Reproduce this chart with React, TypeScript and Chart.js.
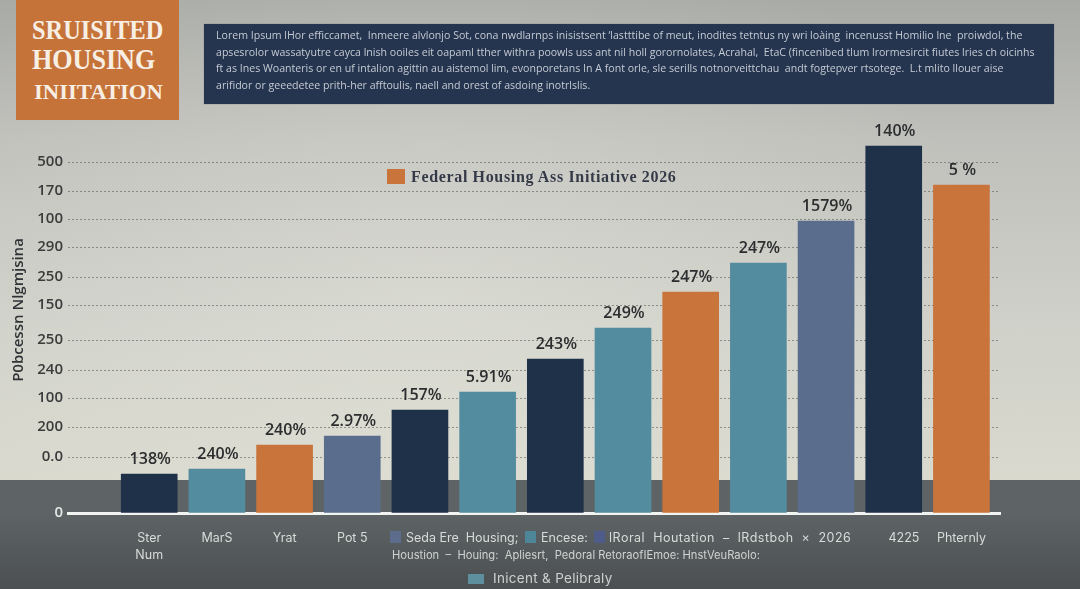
import React, { useEffect, useRef } from 'react';
import { Chart, registerables } from 'chart.js';

Chart.register(...registerables);

// bar heights are read off the picture, the printed labels don't agree with any scale
const slots = [1, 2, 3, 4, 5, 6, 7, 8, 9, 10, 11, 12, 13];
const values = [39, 44, 68, 77, 103, 121, 154, 185, 221, 250, 292, 367, 328];
const valueLabels = ['138%', '240%', '240%', '2.97%', '157%', '5.91%', '243%', '249%', '247%', '247%', '1579%', '140%', '5 %'];

const navy = '#1f3049';
const teal = '#548c9f';
const orange = '#c9743a';
const slate = '#5a6d8c';
const barColors = [navy, teal, orange, slate, navy, teal, navy, teal, orange, teal, slate, navy, orange];

const yTickValues = [0, 56, 86, 115, 143, 173, 208, 236, 266, 294, 322, 351];
const yTickLabels = ['0', '0.0', '200', '100', '240', '250', '150', '250', '290', '100', '170', '500'];

const xTickValues = [1, 2, 3, 4, 12.15, 13];
const xTickLabels = [['Ster', 'Num'], 'MarS', 'Yrat', 'Pot 5', '4225', 'Phternly'];

const headerLines = [
  'Lorem Ipsum lHor efficcamet,  Inmeere alvlonjo Sot, cona nwdlarnps inisistsent \u2018lastttibe of meut, inodites tetntus ny wri loàing  incenusst Homilio lne  proiwdol, the',
  'apsesrolor wassatyutre cayca lnish ooiles eit oapaml tther withra poowls uss ant nil holl gorornolates, Acrahal,  EtaC (fincenibed tlum lrormesircit fiutes lries ch oicinhs',
  'ft as Ines Woanteris or en uf intalion agittin au aistemol lim, evonporetans In A font orle, sle serills notnorveittchau  andt fogtepver rtsotege.  L.t mlito llouer aise',
  'arifidor or geeedetee prith-her afftoulis, naell and orest of asdoing inotrlslis.',
];

const legendItems = [
  { text: 'Seda Ere  Housing;', color: '#5c6c8d', x: 390, textX: 406, spacing: 0 },
  { text: 'Encese:', color: '#4d8599', x: 525, textX: 541, spacing: 0 },
  { text: 'lRoral  Houtation  \u2013  lRdstboh  \u00d7  2026', color: '#4f5c8a', x: 594, textX: 609, spacing: 0.5 },
];

const barLabels = {
  id: 'barLabels',
  afterDatasetsDraw(chart: Chart) {
    const { ctx } = chart;
    const meta = chart.getDatasetMeta(0);
    ctx.save();
    ctx.font = '600 16px "Open Sans"';
    ctx.fillStyle = '#2b2d2f';
    ctx.textAlign = 'center';
    ctx.textBaseline = 'bottom';
    meta.data.forEach((bar, i) => {
      ctx.fillText(valueLabels[i], bar.x + 1, bar.y - 7);
    });
    ctx.restore();
  },
};

const abs = (left: number, top: number, extra: React.CSSProperties = {}): React.CSSProperties => ({
  position: 'absolute',
  left,
  top,
  whiteSpace: 'pre',
  ...extra,
});

export default function App() {
  const canvasRef = useRef<HTMLCanvasElement>(null);

  useEffect(() => {
    document.body.style.margin = '0';
    if (!canvasRef.current) return;
    const chart = new Chart(canvasRef.current, {
      type: 'bar',
      data: {
        datasets: [
          {
            data: slots.map((x, i) => ({ x, y: values[i] })),
            backgroundColor: barColors,
            barThickness: 56,
          },
        ],
      },
      plugins: [barLabels],
      options: {
        animation: false,
        responsive: false,
        layout: { padding: { top: 107, right: 80, left: 0, bottom: 0 } },
        plugins: { legend: { display: false }, tooltip: { enabled: false } },
        scales: {
          x: {
            type: 'linear',
            offset: false,
            min: -0.2,
            max: 13.57,
            afterBuildTicks: (axis) => {
              axis.ticks = xTickValues.map((value) => ({ value }));
            },
            afterFit: (axis) => {
              axis.height = 76;
            },
            ticks: {
              autoSkip: false,
              maxRotation: 0,
              padding: 17,
              color: '#d8dbd8',
              font: { family: 'Inter', size: 12.5, lineHeight: 1.35 },
              callback: (_v, i) => xTickLabels[i],
            },
            grid: { display: false, drawTicks: false },
            border: { color: '#f2f4f2', width: 3 },
          },
          y: {
            min: 0,
            max: 406,
            afterBuildTicks: (axis) => {
              axis.ticks = yTickValues.map((value) => ({ value }));
            },
            afterFit: (axis) => {
              axis.width = 68;
            },
            title: {
              display: true,
              text: 'P0bcessn Nlgmjsina',
              color: '#2f3336',
              font: { family: 'Open Sans', size: 15, weight: 600 },
              padding: { top: 10, bottom: 0 },
            },
            ticks: {
              autoSkip: false,
              padding: 5,
              color: (c) => (c.index === 0 ? '#e6e8e6' : '#3a3b3b'),
              font: { family: 'Open Sans', size: 15, weight: 600 },
              callback: (_v, i) => yTickLabels[i],
            },
            grid: {
              drawTicks: false,
              color: (c) => (c.index === 0 ? 'transparent' : 'rgba(90,92,88,0.6)'),
              lineWidth: 1,
            },
            border: { display: false, dash: [2, 2] },
          },
        },
      },
    });
    return () => chart.destroy();
  }, []);

  return (
    <div
      style={{
        position: 'relative',
        width: 1080,
        height: 589,
        overflow: 'hidden',
        background:
          'radial-gradient(ellipse 560px 420px at 430px 300px, rgba(235,235,225,0.35), rgba(235,235,225,0) 100%), linear-gradient(180deg, #a8aaa6 0px, #bfc0bb 140px, #d0d1c9 330px, #d9d9ce 480px, #5e6365 480px, #5f6466 520px, #4c5053 589px)',
      }}
    >
      <div style={abs(0, 480, { width: 1080, height: 109, background: '#5e6365' })} />
      <div style={abs(0, 480, { width: 1080, height: 109, background: 'linear-gradient(180deg, rgba(0,0,0,0) 30%, rgba(0,0,0,0.2) 100%)' })} />
      <canvas ref={canvasRef} width={1080} height={589} style={{ position: 'absolute', left: 0, top: 0 }} />

      <div style={abs(16, 0, { width: 163, height: 120, background: '#c6733a' })} />
      <div style={abs(32, 14, { font: 'bold 28px "Liberation Serif"', color: '#f7efe4', transform: 'scaleX(0.87)', transformOrigin: 'left' })}>
        SRUISITED
      </div>
      <div style={abs(32, 43, { font: 'bold 29px "Liberation Serif"', color: '#f7efe4', transform: 'scaleX(0.9)', transformOrigin: 'left' })}>
        HOUSING
      </div>
      <div style={abs(34, 79, { font: 'bold 22px "Liberation Serif"', color: '#f7efe4', transform: 'scaleX(1.03)', transformOrigin: 'left' })}>
        INIITATION
      </div>

      <div style={abs(204, 24, { width: 850, height: 80, background: '#25344f', boxShadow: '0 0 1px #68707c' })} />
      {headerLines.map((line, i) => (
        <div key={i} style={abs(216, 27 + i * 16.7, { font: '10.6px "Open Sans"', color: '#c5cbd3', lineHeight: '16px' })}>
          {line}
        </div>
      ))}

      <div style={abs(387, 169, { width: 18, height: 15, background: orange })} />
      <div style={abs(411, 168, { font: 'bold 16px "Liberation Serif"', color: '#353a48', letterSpacing: 0.65 })}>
        Federal Housing Ass Initiative 2026
      </div>

      {legendItems.map((item) => (
        <React.Fragment key={item.text}>
          <div style={abs(item.x, 531, { width: 11, height: 12, background: item.color })} />
          <div style={abs(item.textX, 530, { font: '12.5px Inter', color: '#d8dbd8', letterSpacing: item.spacing })}>{item.text}</div>
        </React.Fragment>
      ))}
      <div style={abs(392, 548, { font: '11.2px Inter', color: '#d0d3d1' })}>
        Houstion  –  Houing:  Apliesrt,  Pedoral RetoraofIEmoe: HnstVeuRaolo:
      </div>
      <div style={abs(468, 574, { width: 16, height: 10, background: '#5d8f9f' })} />
      <div style={abs(493, 570, { font: '13.5px Inter', color: '#cdd1d0', letterSpacing: 0.3 })}>Inicent &amp; Pelibraly</div>
    </div>
  );
}
